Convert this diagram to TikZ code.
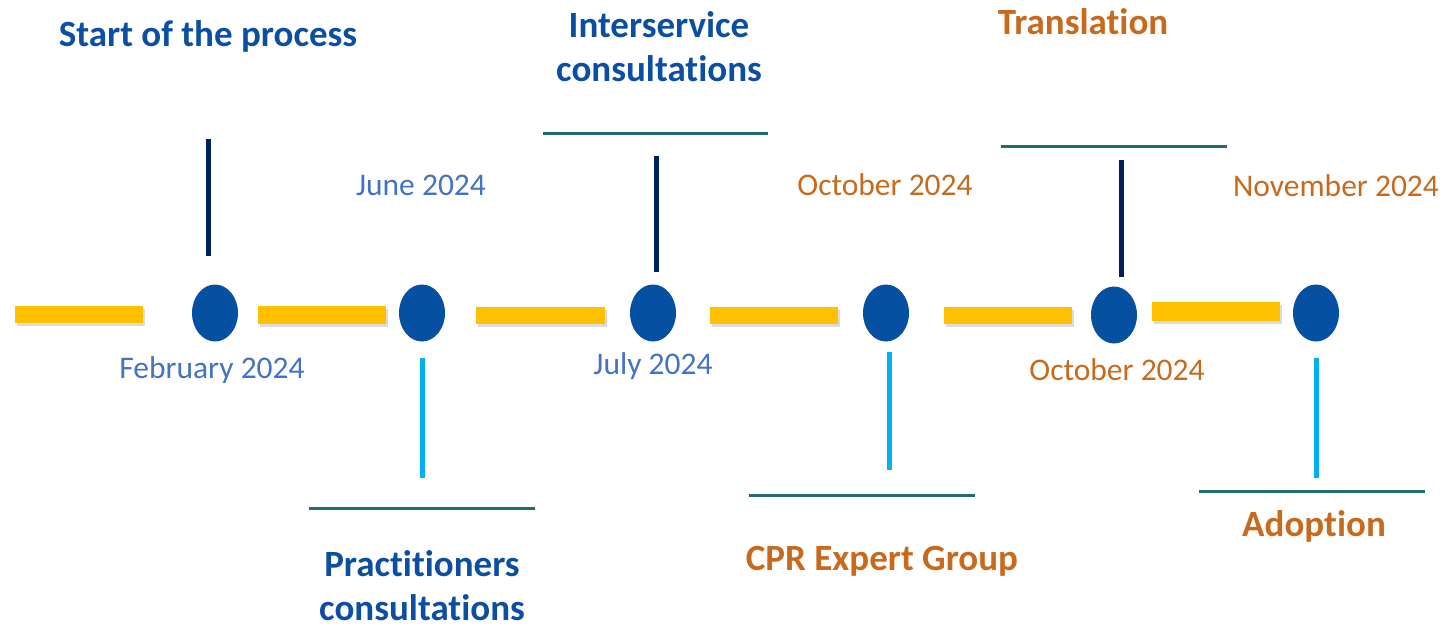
\documentclass[tikz,border=0pt]{standalone}
\usepackage{fontspec}
\setmainfont[Ligatures=NoCommon]{Carlito}
\usetikzlibrary{shadows,shapes.geometric}
\definecolor{barYellow}{HTML}{FFC000}
\definecolor{dotBlue}{HTML}{0550A0}
\definecolor{titleBlue}{HTML}{0B4EA2}
\definecolor{dateBlue}{HTML}{4472C4}
\definecolor{ochre}{HTML}{C86A1E}
\definecolor{navy}{HTML}{002060}
\definecolor{skyBlue}{HTML}{00B0F0}
\definecolor{teal}{HTML}{236C6C}
\tikzset{
  bar/.style={fill=barYellow, draw=none,
    drop shadow={shadow xshift=2pt, shadow yshift=-3pt, opacity=0.14, fill=black}},
  milestone/.style={ellipse, fill=dotBlue, draw=none, minimum width=46pt, minimum height=57pt, inner sep=0pt},
  upstem/.style={navy, line width=5pt},
  downstem/.style={skyBlue, line width=5pt},
  rule/.style={teal, line width=3pt},
  title/.style={font=\fontsize{37}{44}\selectfont\bfseries, align=center, inner sep=0pt},
  date/.style={font=\fontsize{31.5}{34}\selectfont, inner sep=0pt},
}
\begin{document}
\begin{tikzpicture}[x=1pt, y=-1pt]
\useasboundingbox (0,0) rectangle (1448,627);

% yellow timeline segments
\fill[bar] (15,306) rectangle (143,323);
\fill[bar] (258,306) rectangle (386,324);
\fill[bar] (476,307) rectangle (605,324);
\fill[bar] (710,307) rectangle (838,324);
\fill[bar] (944,307) rectangle (1072,324);
\fill[bar] (1152,302) rectangle (1280,321);

% milestones
\node[milestone] (m1) at (215,313) {};
\node[milestone] (m2) at (422,313) {};
\node[milestone] (m3) at (653,313) {};
\node[milestone] (m4) at (886,313) {};
\node[milestone] (m5) at (1114,315) {};
\node[milestone] (m6) at (1316,313) {};

% stems
\coordinate (s1a) at (208,139); \coordinate (s1b) at (208,256);
\coordinate (s2a) at (422,358); \coordinate (s2b) at (422,478);
\coordinate (s3a) at (656,156); \coordinate (s3b) at (656,272);
\coordinate (s4a) at (889,352); \coordinate (s4b) at (889,470);
\coordinate (s5a) at (1121,160); \coordinate (s5b) at (1121,277);
\coordinate (s6a) at (1316,358); \coordinate (s6b) at (1316,478);
\draw[upstem] (s1a) -- (s1b);
\draw[upstem] (s3a) -- (s3b);
\draw[upstem] (s5a) -- (s5b);
\draw[downstem] (s2a) -- (s2b);
\draw[downstem] (s4a) -- (s4b);
\draw[downstem] (s6a) -- (s6b);

% horizontal rules
\coordinate (r3a) at (543,133); \coordinate (r3b) at (768,133);
\coordinate (r5a) at (1001,146); \coordinate (r5b) at (1227,146);
\coordinate (r2a) at (309,508); \coordinate (r2b) at (535,508);
\coordinate (r4a) at (749,495); \coordinate (r4b) at (975,495);
\coordinate (r6a) at (1199,491); \coordinate (r6b) at (1425,491);
\draw[rule] (r3a) -- (r3b);
\draw[rule] (r5a) -- (r5b);
\draw[rule] (r2a) -- (r2b);
\draw[rule] (r4a) -- (r4b);
\draw[rule] (r6a) -- (r6b);

% titles
\node[title, text=titleBlue] (t1) at (208,36) {Start of the process};
\node[title, text=titleBlue] (t3) at (659,47) {Interservice\\consultations};
\node[title, text=ochre] (t5) at (1083,22) {Translation};
\node[title, text=titleBlue] (t2) at (422,586) {Practitioners\\consultations};
\node[title, text=ochre] (t4) at (882,561) {CPR Expert Group};
\node[title, text=ochre] (t6) at (1314,526) {Adoption};

% dates
\node[date, text=dateBlue] (d1) at (212,370) {February 2024};
\node[date, text=dateBlue] (d2) at (421,185) {June 2024};
\node[date, text=dateBlue] (d3) at (653,366) {July 2024};
\node[date, text=ochre] (d4) at (885,185) {October 2024};
\node[date, text=ochre] (d5) at (1117,370) {October 2024};
\node[date, text=ochre] (d6) at (1336,186) {November 2024};
\end{tikzpicture}
\end{document}
